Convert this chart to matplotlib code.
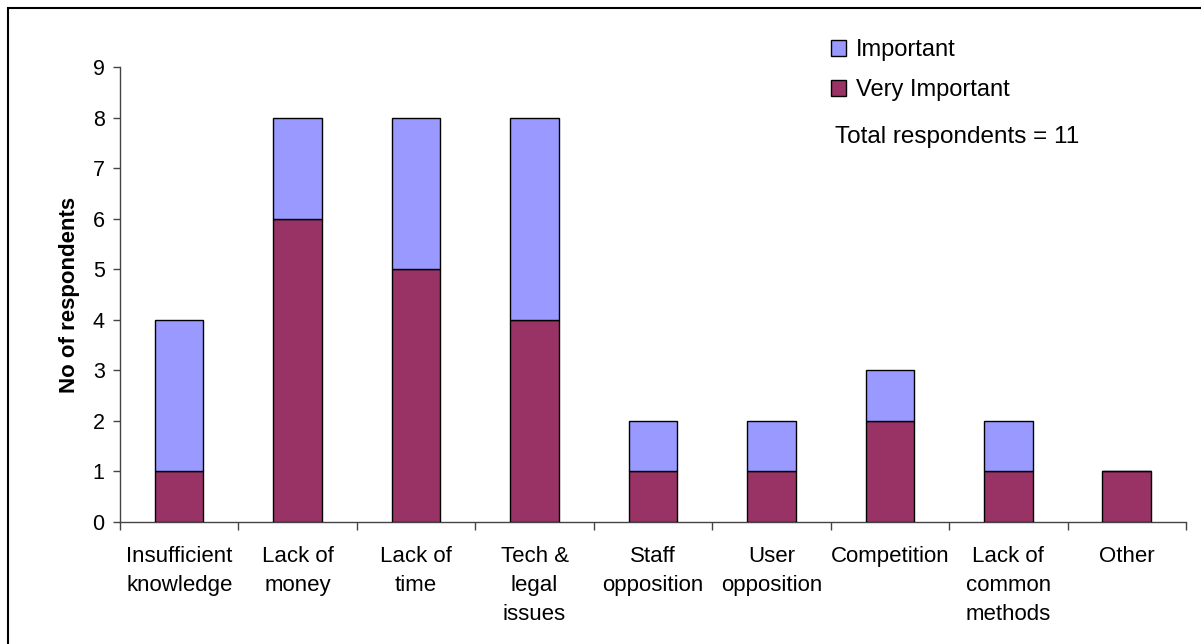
import numpy as np
import matplotlib.pyplot as plt
from matplotlib.patches import Patch, Rectangle

plt.rcParams["font.family"] = ["Liberation Sans", "DejaVu Sans"]

categories = [
    "Insufficient\nknowledge",
    "Lack of\nmoney",
    "Lack of\ntime",
    "Tech &\nlegal\nissues",
    "Staff\nopposition",
    "User\nopposition",
    "Competition",
    "Lack of\ncommon\nmethods",
    "Other",
]
very_important = [1, 6, 5, 4, 1, 1, 2, 1, 1]
important = [3, 2, 3, 4, 1, 1, 1, 1, 0]
total_respondents = 11

col_very = "#993366"
col_imp = "#9999FF"

fig = plt.figure(figsize=(12.01, 6.44), dpi=100)
ax = fig.add_axes([0.0999, 0.1894, 0.8876, 0.7066])

x = np.arange(len(categories))
w = 0.41
ax.bar(x, very_important, w, color=col_very, edgecolor="black", linewidth=1.0,
       label="Very Important", zorder=3)
ax.bar(x, important, w, bottom=very_important, color=col_imp, edgecolor="black",
       linewidth=1.0, label="Important", zorder=3)

ax.set_xlim(-0.5, len(categories) - 0.5)
ax.set_ylim(0, 9)
ax.set_yticks(range(10))
ax.tick_params(axis="y", labelsize=15.5, length=5, width=1, color="#444444", pad=6)

# ticks between categories, labels under each bar
ax.set_xticks(np.arange(len(categories) + 1) - 0.5)
ax.set_xticklabels([])
ax.set_xticks(x, minor=True)
ax.set_xticklabels(categories, minor=True, fontsize=16, linespacing=1.5, va="top")
ax.tick_params(axis="x", which="major", length=6, width=1, color="#444444")
ax.tick_params(axis="x", which="minor", length=0, pad=17)

for side in ["top", "right"]:
    ax.spines[side].set_visible(False)
for side in ["left", "bottom"]:
    ax.spines[side].set_color("#444444")
    ax.spines[side].set_linewidth(1)

ax.set_ylabel("No of respondents", fontsize=16, fontweight="bold", labelpad=9)

handles = [Patch(facecolor=col_imp, edgecolor="black", label="Important"),
           Patch(facecolor=col_very, edgecolor="black", label="Very Important")]
fig.legend(handles=handles, loc="upper left", bbox_to_anchor=(0.674, 0.972),
           frameon=False, fontsize=17, handlelength=0.65, handleheight=0.65,
           handletextpad=0.4, labelspacing=0.75)
fig.text(0.695, 0.778, f"Total respondents = {total_respondents}", fontsize=17.5,
         va="baseline")

# outer frame around the chart area
fig.patches.append(Rectangle((8 / 1201, -0.05), 1.2, 1 - 8 / 644 + 0.05,
                             transform=fig.transFigure, fill=False,
                             edgecolor="black", linewidth=1.5))

fig.savefig("out.png", dpi=100)
